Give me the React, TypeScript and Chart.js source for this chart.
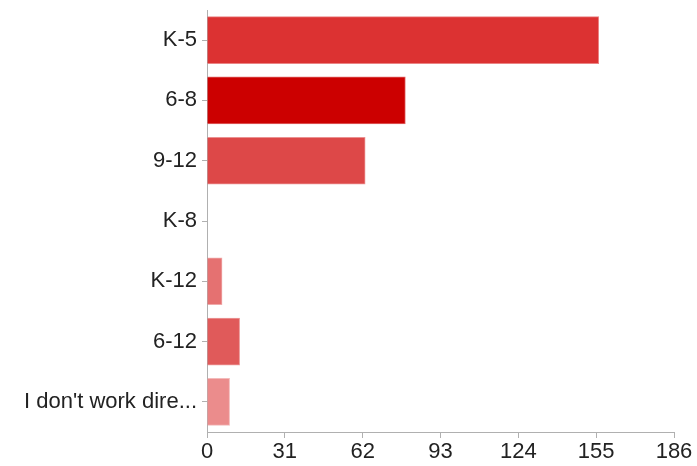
import React, { useEffect, useRef } from "react";
import { Chart, registerables } from "chart.js";

Chart.register(...registerables);

const categories = ["K-5", "6-8", "9-12", "K-8", "K-12", "6-12", "I don't work dire..."];
const values = [156, 79, 63, 0, 6, 13, 9];
const barColors = ["#dc3232", "#cc0000", "#dd4848", "#e05a5a", "#e57171", "#e05a5a", "#eb8c8c"];
const xTicks = [0, 31, 62, 93, 124, 155, 186];

export default function App() {
  const ref = useRef<HTMLCanvasElement | null>(null);
  useEffect(() => {
    document.body.style.margin = "0";
    if (!ref.current) return;
    const chart = new Chart(ref.current, {
      type: "bar",
      data: {
        labels: categories,
        datasets: [
          {
            data: values,
            backgroundColor: barColors,
            borderColor: barColors.map((c) => c + "99"),
            borderWidth: 1,
            barThickness: 47,
          },
        ],
      },
      options: {
        indexAxis: "y",
        animation: false,
        responsive: false,
        maintainAspectRatio: false,
        layout: { padding: { top: 10, right: 23, left: 0, bottom: 0 } },
        plugins: { legend: { display: false }, tooltip: { enabled: false } },
        scales: {
          x: {
            min: 0,
            max: 186,
            afterBuildTicks: (scale: any) => {
              scale.ticks = xTicks.map((v) => ({ value: v }));
            },
            afterFit: (scale: any) => {
              scale.height = 34;
            },
            grid: { drawOnChartArea: false, drawTicks: true, tickLength: 6, color: "#b0b0b0" },
            border: { display: true, color: "#b0b0b0" },
            ticks: {
              color: "#222",
              padding: 1,
              maxRotation: 0,
              font: { family: "Liberation Sans", size: 22 },
            },
          },
          y: {
            afterFit: (scale: any) => {
              scale.width = 207;
              scale.paddingTop = 0;
              scale.paddingBottom = 0;
            },
            grid: { offset: false, drawOnChartArea: false, drawTicks: true, tickLength: 5, color: "#b0b0b0" },
            border: { display: true, color: "#b0b0b0" },
            ticks: {
              color: "#222",
              padding: 5,
              font: { family: "Liberation Sans", size: 22 },
            },
          },
        },
      },
    });
    return () => chart.destroy();
  }, []);
  return (
    <div style={{ position: "absolute", left: 0, top: 0, width: 697, height: 466 }}>
      <canvas ref={ref} width={697} height={466} style={{ width: 697, height: 466 }} />
    </div>
  );
}
